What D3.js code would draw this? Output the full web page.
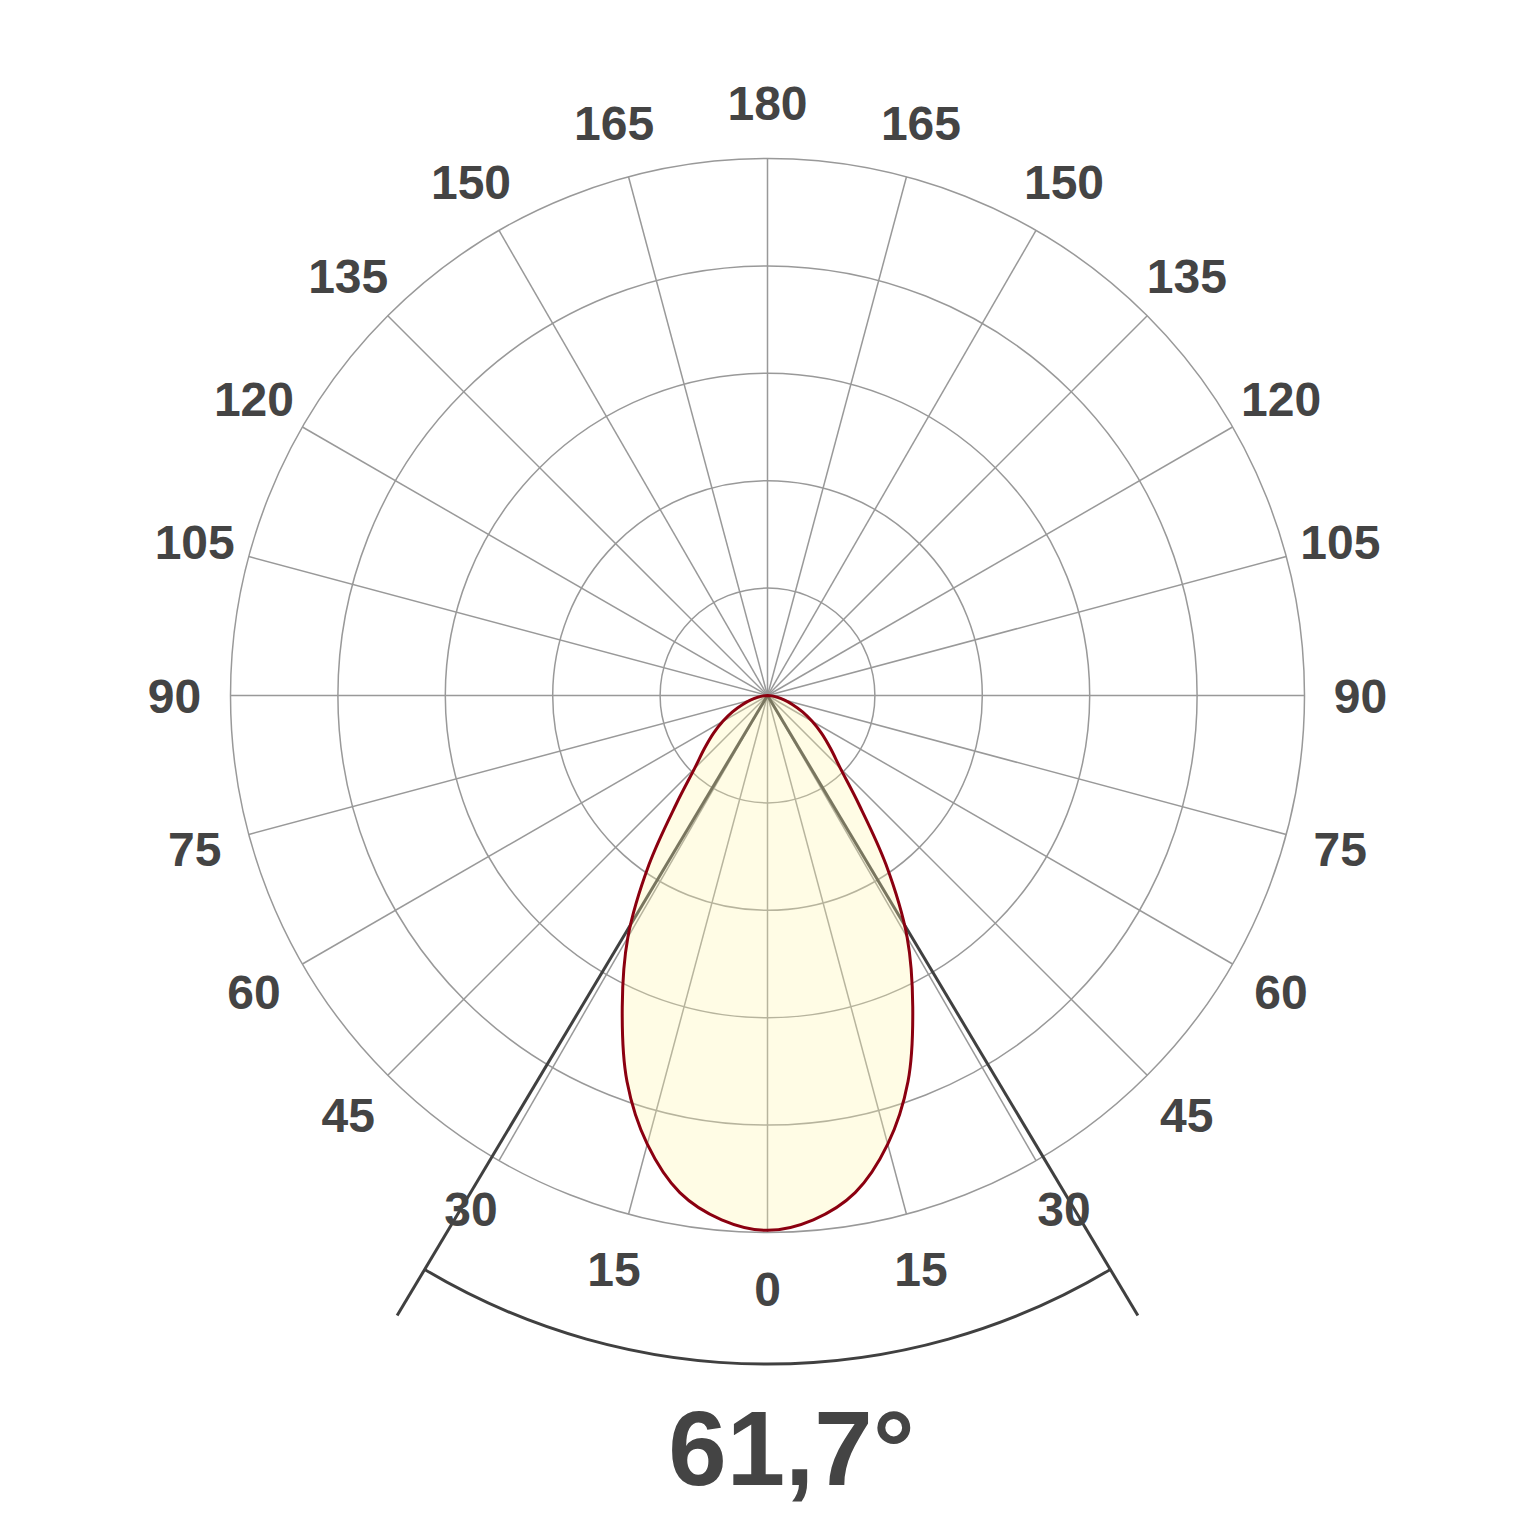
<!DOCTYPE html>
<html>
<head>
<meta charset="utf-8" />
<title>Polar light distribution</title>
<style>
  body { margin: 0; background: #fff; }
  .grid { stroke: #999; stroke-width: 1.5px; fill: none; }
  .lbl { font-family: "Liberation Sans", Arial, sans-serif; font-weight: bold; fill: #444; }
</style>
<script src="https://cdn.jsdelivr.net/npm/d3@7"></script>
</head>
<body>
<script>
// angles measured from straight down (nadir), degrees
var angles = [0, 5, 10, 15, 20, 25, 30, 35, 40, 45, 50, 55, 60, 65, 70, 75, 80, 85, 90];
// intensity in % of the outer ring
var intensity = [99.6, 98.0, 94.0, 86.5, 76.5, 64, 52, 38.5, 26.5, 19.2, 15.3, 12.3, 9.6, 7.2, 5.0, 3.2, 1.8, 0.8, 0];
var ringValues = [20, 40, 60, 80, 100];
var tickAngles = [0, 15, 30, 45, 60, 75, 90, 105, 120, 135, 150, 165, 180];
var beamAngle = 61.7;
var beamLabel = "61,7";

var width = 1536, height = 1536,
    cx = 767.5, cy = 695.5, R = 537;

var rad = d3.scaleLinear().domain([0, 100]).range([0, R]);
var toRad = function(deg) { return deg * Math.PI / 180; };

var svg = d3.select("body").append("svg")
    .attr("width", width)
    .attr("height", height);

svg.append("rect").attr("width", width).attr("height", height).attr("fill", "#fff");

var g = svg.append("g").attr("transform", "translate(" + cx + "," + cy + ")");

// rings
g.selectAll(".ring")
    .data(ringValues)
  .enter().append("circle")
    .attr("class", "grid")
    .attr("r", function(d) { return rad(d); });

// spokes every 15 deg, both sides
var spokes = d3.range(0, 360, 15);
g.selectAll(".spoke")
    .data(spokes)
  .enter().append("line")
    .attr("class", "grid")
    .attr("x1", 0).attr("y1", 0)
    .attr("x2", function(d) { return rad(100) * Math.sin(toRad(d)); })
    .attr("y2", function(d) { return rad(100) * Math.cos(toRad(d)); });

// beam angle lines and arc
var half = beamAngle / 2;
var beamLen = rad(134.5), arcR = rad(124.5);
g.selectAll(".beam")
    .data([-half, half])
  .enter().append("line")
    .attr("x1", 0).attr("y1", 0)
    .attr("x2", function(d) { return beamLen * Math.sin(toRad(d)); })
    .attr("y2", function(d) { return beamLen * Math.cos(toRad(d)); })
    .attr("stroke", "#404040")
    .attr("stroke-width", 3);

g.append("path")
    .attr("d", d3.arc()
        .innerRadius(arcR).outerRadius(arcR)
        .startAngle(Math.PI - toRad(half))
        .endAngle(Math.PI + toRad(half))())
    .attr("fill", "none")
    .attr("stroke", "#404040")
    .attr("stroke-width", 3);

// symmetric curve: left side 90..0 then right side 0..90
var pts = [];
for (var i = angles.length - 1; i >= 0; i--) pts.push([Math.PI + toRad(angles[i]), intensity[i]]);
for (var j = 1; j < angles.length; j++) pts.push([Math.PI - toRad(angles[j]), intensity[j]]);

var line = d3.lineRadial()
    .angle(function(d) { return d[0]; })
    .radius(function(d) { return rad(d[1]); })
    .curve(d3.curveCatmullRom.alpha(0.5));

g.append("path")
    .attr("d", line(pts) + "Z")
    .attr("fill", "#fff5aa")
    .attr("fill-opacity", 0.3)
    .attr("stroke", "none");

g.append("path")
    .attr("d", line(pts) + "Z")
    .attr("fill", "none")
    .attr("stroke", "#8b0010")
    .attr("stroke-width", 3)
    .attr("stroke-linejoin", "round");

// angle labels on both sides
var labR = 593;
var labData = [];
tickAngles.forEach(function(a) {
  labData.push({a: a, s: -1});
  if (a !== 0 && a !== 180) labData.push({a: a, s: 1});
});
g.selectAll(".tick")
    .data(labData)
  .enter().append("text")
    .attr("class", "lbl")
    .attr("x", function(d) { return d.s * labR * Math.sin(toRad(d.a)); })
    .attr("y", function(d) { return labR * Math.cos(toRad(d.a)); })
    .attr("text-anchor", "middle")
    .attr("dy", "0.36em")
    .style("font-size", "48px")
    .text(function(d) { return d.a; });

// beam angle value
var title = svg.append("text")
    .attr("class", "lbl")
    .attr("x", cx + 3)
    .attr("y", 1485)
    .attr("text-anchor", "middle")
    .style("font-size", "105px")
    .text(beamLabel);
var tw = title.node().getComputedTextLength();
svg.append("text")
    .attr("class", "lbl")
    .attr("x", cx + 3 + tw / 2)
    .attr("y", 1485)
    .style("font-size", "105px")
    .text("\u00b0");
</script>
</body>
</html>
